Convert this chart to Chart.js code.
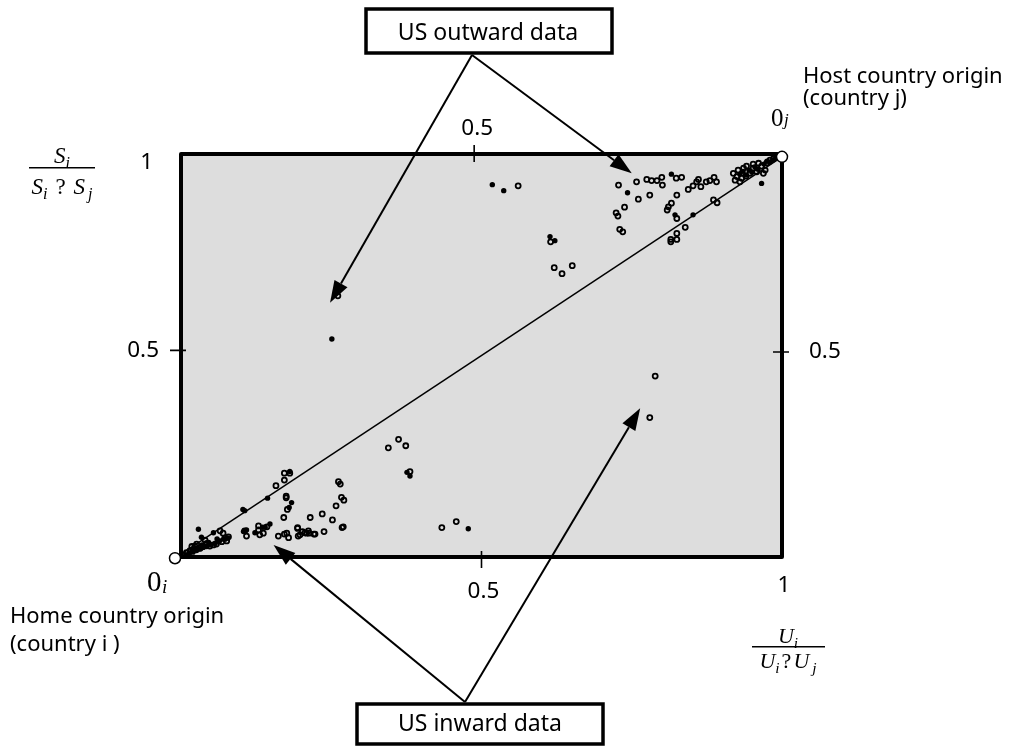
<!DOCTYPE html>
<html>
<head>
<meta charset="utf-8">
<script src="https://cdn.jsdelivr.net/npm/chart.js@4"></script>
<style>
  html, body { margin: 0; padding: 0; background: #fff; }
  #wrap { width: 1013px; height: 746px; position: relative; }
</style>
</head>
<body>
<div id="wrap"><canvas id="chart"></canvas></div>
<script>
// values are shares: U_i/(U_i+U_j) on x, S_i/(S_i+S_j) on y

// open markers
const hollowPts = [
  [0.728,0.923],[0.758,0.931],[0.775,0.937],[0.783,0.934],[0.792,0.934],[0.800,0.942],[0.801,0.923],
  [0.824,0.940],[0.833,0.942],[0.761,0.888],[0.780,0.898],[0.825,0.898],[0.844,0.912],[0.852,0.921],
  [0.858,0.931],[0.861,0.937],[0.865,0.919],[0.874,0.931],[0.880,0.934],[0.887,0.942],[0.891,0.931],
  [0.724,0.854],[0.727,0.846],[0.738,0.868],[0.730,0.813],[0.735,0.807],[0.811,0.869],[0.816,0.878],
  [0.809,0.861],[0.825,0.840],[0.886,0.886],[0.892,0.879],[0.839,0.818],[0.825,0.803],[0.825,0.788],
  [0.815,0.788],[0.815,0.782],
  [0.919,0.952],[0.927,0.960],[0.936,0.965],[0.941,0.970],[0.952,0.975],[0.961,0.977],[0.966,0.970],
  [0.975,0.978],[0.980,0.985],[0.986,0.989],[0.925,0.944],[0.933,0.940],[0.940,0.945],[0.947,0.952],
  [0.958,0.956],[0.969,0.952],[0.922,0.935],[0.930,0.931],[0.972,0.960],[0.991,0.992],[0.952,0.965],
  [0.561,0.921],[0.615,0.782],[0.621,0.718],[0.634,0.703],[0.651,0.723],
  [0.261,0.648],
  [0.345,0.271],[0.362,0.292],[0.374,0.276],[0.381,0.212],[0.434,0.073],[0.458,0.088],
  [0.780,0.346],[0.789,0.449],
  [0.172,0.208],[0.181,0.208],[0.172,0.191],[0.158,0.177],[0.175,0.151],[0.175,0.147],[0.177,0.118],
  [0.262,0.187],[0.265,0.181],[0.267,0.148],[0.271,0.141],[0.258,0.127],[0.235,0.107],[0.252,0.092],
  [0.215,0.098],[0.171,0.098],[0.194,0.073],[0.195,0.052],[0.202,0.063],[0.209,0.059],[0.212,0.065],
  [0.221,0.057],[0.238,0.063],[0.268,0.073],[0.162,0.052],[0.172,0.057],[0.179,0.048],[0.129,0.077],
  [0.143,0.075],[0.129,0.067],[0.137,0.059],[0.131,0.055],[0.106,0.065],[0.109,0.052],
  [0.065,0.065],[0.070,0.059],[0.073,0.046],[0.068,0.038],[0.076,0.040],[0.079,0.050],[0.059,0.032],
  [0.048,0.027],[0.037,0.026],[0.032,0.022],[0.023,0.027],[0.040,0.042],[0.043,0.034],[0.054,0.030],
  [0.026,0.032],[0.018,0.026],[0.015,0.016],[0.009,0.011],
  [0.176,0.059],[0.198,0.055],[0.206,0.060],[0.213,0.059],[0.223,0.057],[0.270,0.075],[0.194,0.071]
];

// solid markers
const solidPts = [
  [0.816,0.950],[0.743,0.904],[0.822,0.849],[0.852,0.849],[0.966,0.927],
  [0.518,0.924],[0.537,0.909],[0.614,0.795],[0.622,0.785],[0.251,0.541],
  [0.376,0.210],[0.381,0.201],[0.478,0.070],
  [0.181,0.212],[0.144,0.146],[0.184,0.135],[0.180,0.123],[0.103,0.118],[0.106,0.115],
  [0.136,0.074],[0.148,0.082],[0.123,0.060],[0.104,0.063],[0.029,0.069],[0.054,0.060],
  [0.034,0.049],[0.109,0.067],[0.140,0.074],
  [0.008,0.006],[0.014,0.009],[0.020,0.012],[0.026,0.016],[0.031,0.020],[0.037,0.024],
  [0.043,0.026],[0.050,0.030],[0.057,0.034],[0.064,0.040],[0.071,0.044],[0.078,0.047],
  [0.018,0.018],[0.024,0.021],[0.035,0.030],[0.046,0.036],[0.060,0.045],
  [0.930,0.950],[0.945,0.960],[0.955,0.968],[0.970,0.975],[0.980,0.980],[0.990,0.990],
  [0.960,0.962],[0.940,0.948],[0.935,0.957],[0.950,0.955],[0.975,0.982],[0.985,0.985]
];

// origins of the two countries and the line joining them
const originPts = [[-0.010,-0.003],[1.000,0.993]];

// axis ticks
const bottomTicks = [0.5, 1];
const bottomLabels = ['0.5', '1'];
const topTicks = [0.5];
const topLabels = ['0.5'];
const leftTicks = [0.5, 1];
const leftLabels = ['0.5', '1'];
const rightTicks = [0.5];
const rightLabels = ['0.5'];

// arrow tips [U share, S share]
const outwardTips = [[0.248,0.631],[0.750,0.952]];
const inwardTips = [[0.154,0.030],[0.764,0.369]];

const toXY = arr => arr.map(p => ({ x: p[0], y: p[1] }));

const SANS = '"Noto Sans", sans-serif';
const SERIF = '"Liberation Serif", serif';

function arrow(ctx, x0, y0, x1, y1) {
    const ang = Math.atan2(y1 - y0, x1 - x0);
    const len = 22, hw = 7.5;
    const bx = x1 - len * Math.cos(ang), by = y1 - len * Math.sin(ang);
    ctx.beginPath();
    ctx.moveTo(x0, y0);
    ctx.lineTo(bx, by);
    ctx.stroke();
    ctx.beginPath();
    ctx.moveTo(x1, y1);
    ctx.lineTo(bx + hw * Math.sin(ang), by - hw * Math.cos(ang));
    ctx.lineTo(bx - hw * Math.sin(ang), by + hw * Math.cos(ang));
    ctx.closePath();
    ctx.fill();
}

// tokens: [text, kind] kind v = italic variable, s = subscript, o = operator, g = gap
function mathWidth(ctx, tokens, size) {
    let w = 0;
    tokens.forEach(([t, k]) => {
        if (k === 'g') { w += t; return; }
        ctx.font = (k === 'o' ? '' : 'italic ') + (k === 's' ? size * 0.7 : size) + 'px ' + SERIF;
        w += ctx.measureText(t).width;
    });
    return w;
}
function mathDraw(ctx, tokens, size, cx, base) {
    let x = cx - mathWidth(ctx, tokens, size) / 2;
    ctx.textAlign = 'left';
    ctx.textBaseline = 'alphabetic';
    tokens.forEach(([t, k]) => {
        if (k === 'g') { x += t; return; }
        ctx.font = (k === 'o' ? '' : 'italic ') + (k === 's' ? size * 0.7 : size) + 'px ' + SERIF;
        ctx.fillText(t, x, base + (k === 's' ? size * 0.25 : 0));
        x += ctx.measureText(t).width;
    });
}
function fraction(ctx, num, den, size, cx, barY, x0, x1, numGap, denGap) {
    ctx.lineWidth = 1.6;
    ctx.beginPath();
    ctx.moveTo(x0, barY);
    ctx.lineTo(x1, barY);
    ctx.stroke();
    mathDraw(ctx, num, size, cx, barY - numGap);
    mathDraw(ctx, den, size, cx, barY + denGap);
}

const decor = {
    id: 'decor',
    beforeDatasetsDraw(chart) {
        const { ctx, chartArea: a, scales } = chart;
        ctx.save();
        ctx.fillStyle = '#dddddd';
        ctx.fillRect(a.left, a.top, a.right - a.left, a.bottom - a.top);
        ctx.strokeStyle = '#000';
        ctx.lineWidth = 4;
        ctx.lineJoin = 'round';
        ctx.strokeRect(a.left, a.top, a.right - a.left, a.bottom - a.top);

        // tick marks at 0.5 crossing the frame
        ctx.lineWidth = 1.6;
        ctx.beginPath();
        const xb = scales.x.getPixelForValue(bottomTicks[0]);
        ctx.moveTo(xb, a.bottom - 6); ctx.lineTo(xb, a.bottom + 11);
        const xt = scales.xTop.getPixelForValue(topTicks[0]);
        ctx.moveTo(xt, a.top - 9); ctx.lineTo(xt, a.top + 8);
        const yl = scales.yLeft.getPixelForValue(leftTicks[0]);
        ctx.moveTo(a.left - 11, yl); ctx.lineTo(a.left + 5, yl);
        const yr = scales.yRight.getPixelForValue(rightTicks[0]);
        ctx.moveTo(a.right - 9, yr); ctx.lineTo(a.right + 7, yr);
        ctx.stroke();
        ctx.restore();
    },
    afterDatasetsDraw(chart) {
        const { ctx, chartArea: a, scales } = chart;
        const sx = scales.x, sy = scales.y;
        ctx.save();
        ctx.fillStyle = '#000';
        ctx.strokeStyle = '#000';

        // tick labels
        ctx.font = '22.5px ' + SANS;
        ctx.textAlign = 'center';
        ctx.textBaseline = 'middle';
        bottomTicks.forEach((v, i) => {
            ctx.fillText(bottomLabels[i], sx.getPixelForValue(v) + 2, a.bottom + (v === 1 ? 29 : 35));
        });
        topTicks.forEach((v, i) => {
            ctx.fillText(topLabels[i], scales.xTop.getPixelForValue(v) + 3, a.top - 25);
        });
        ctx.textAlign = 'right';
        leftTicks.forEach((v, i) => {
            const y = v === 1 ? a.top + 9 : scales.yLeft.getPixelForValue(v);
            ctx.fillText(leftLabels[i], v === 1 ? a.left - 28 : a.left - 22, y);
        });
        ctx.textAlign = 'left';
        rightTicks.forEach((v, i) => {
            ctx.fillText(rightLabels[i], a.right + 27, scales.yRight.getPixelForValue(v));
        });

        // boxes
        ctx.lineWidth = 3.5;
        ctx.fillStyle = '#fff';
        ctx.fillRect(366, 9, 246, 44);
        ctx.strokeRect(366, 9, 246, 44);
        ctx.fillRect(357, 704, 246, 40);
        ctx.strokeRect(357, 704, 246, 40);
        ctx.fillStyle = '#000';
        ctx.font = '23px ' + SANS;
        ctx.textAlign = 'center';
        ctx.fillText('US outward data', 488, 33);
        ctx.fillText('US inward data', 480, 724);

        // arrows
        ctx.lineWidth = 2;
        outwardTips.forEach(p => arrow(ctx, 472, 55, sx.getPixelForValue(p[0]), sy.getPixelForValue(p[1])));
        inwardTips.forEach(p => arrow(ctx, 465, 702, sx.getPixelForValue(p[0]), sy.getPixelForValue(p[1])));

        // origin captions
        ctx.font = '22px ' + SANS;
        ctx.textAlign = 'left';
        ctx.fillText('Host country origin', 803, 77);
        ctx.fillText('(country j)', 803, 99);
        ctx.fillText('Home country origin', 10, 617);
        ctx.fillText('(country i )', 10, 645);

        ctx.textBaseline = 'alphabetic';
        ctx.font = '29px ' + SERIF;
        ctx.fillText('0', 147, 591);
        ctx.font = 'italic 19px ' + SERIF;
        ctx.fillText('i', 162, 593);
        ctx.font = '25px ' + SERIF;
        ctx.fillText('0', 771, 126);
        ctx.font = 'italic 17px ' + SERIF;
        ctx.fillText('j', 784, 125);

        // axis titles
        fraction(ctx, [['S', 'v'], ['i', 's']],
            [['S', 'v'], ['i', 's'], [8, 'g'], ['?', 'o'], [8, 'g'], ['S', 'v'], [3, 'g'], ['j', 's']],
            23, 62, 167.7, 29, 95, 5, 26);
        fraction(ctx, [['U', 'v'], ['i', 's']],
            [['U', 'v'], ['i', 's'], [2, 'g'], ['?', 'o'], [2, 'g'], ['U', 'v'], [3, 'g'], ['j', 's']],
            22, 788, 646.7, 752, 825, 4, 21);
        ctx.restore();
    }
};

new Chart(document.getElementById('chart'), {
    type: 'scatter',
    data: {
        datasets: [
            {
                data: toXY(originPts),
                pointRadius: 5.5,
                pointBorderWidth: 1.5,
                pointBackgroundColor: '#fff',
                pointBorderColor: '#000',
                showLine: false,
                clip: false,
                order: 0
            },
            {
                data: toXY(solidPts),
                pointRadius: 2.7,
                pointBorderWidth: 0,
                pointBackgroundColor: '#000',
                clip: false,
                order: 1
            },
            {
                data: toXY(hollowPts),
                pointRadius: 2.5,
                pointBorderWidth: 1.8,
                pointBackgroundColor: 'rgba(0,0,0,0)',
                pointBorderColor: '#000',
                clip: false,
                order: 2
            },
            {
                data: toXY(originPts),
                showLine: true,
                borderColor: '#000',
                borderWidth: 1.5,
                pointRadius: 0,
                clip: false,
                order: 3
            }
        ]
    },
    options: {
        responsive: true,
        maintainAspectRatio: false,
        animation: false,
        events: [],
        layout: { padding: { left: 181, right: 231, top: 154, bottom: 189 } },
        plugins: { legend: { display: false }, tooltip: { enabled: false } },
        scales: {
            x: { type: 'linear', min: 0, max: 1, display: false },
            y: { type: 'linear', min: 0, max: 1, display: false },
            xTop: { type: 'linear', axis: 'x', position: 'top', min: 0, max: 1.025, display: false },
            yLeft: { type: 'linear', axis: 'y', position: 'left', min: 0, max: 0.975, display: false },
            yRight: { type: 'linear', axis: 'y', position: 'right', min: 0, max: 0.983, display: false }
        }
    },
    plugins: [decor]
});
</script>
</body>
</html>
